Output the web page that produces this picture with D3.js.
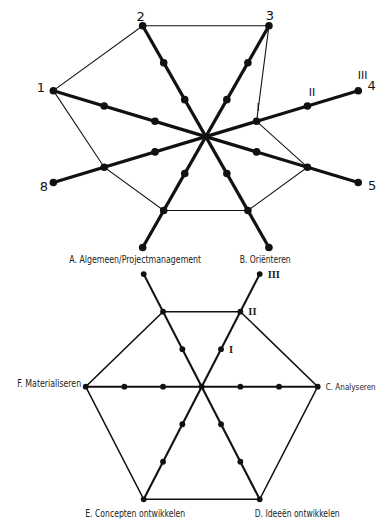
<!DOCTYPE html>
<html>
<head>
<meta charset="utf-8">
<script src="https://cdn.jsdelivr.net/npm/d3@7"></script>
<style>
  html, body { margin: 0; padding: 0; background: #fff; }
  svg { display: block; }
</style>
</head>
<body>
<svg id="chart" width="383" height="520"></svg>
<script>
// ---------- DATA ----------
const topSpokes = ["1", "2", "3", "4", "5", "6", "7", "8"];
const topValues = [3, 3, 3, 1, 2, 2, 2, 2];
const topLevelLabels = ["I", "II", "III"];

const bottomAxes = [
  "A. Algemeen/Projectmanagement",
  "B. Oriënteren",
  "C. Analyseren",
  "D. Ideeën ontwikkelen",
  "E. Concepten ontwikkelen",
  "F. Materialiseren"
];
const bottomValues = [2, 2, 3, 3, 3, 3];
const bottomLevelLabels = ["I", "II", "III"];
const levelMax = 3;

// ---------- LAYOUT ----------
const svg = d3.select("#chart");
const ink = "#111";

function makeRadar(cfg) {
  const n = cfg.count;
  const x = d3.scaleLinear().domain([-1, 1]).range([cfg.cx - cfg.rx, cfg.cx + cfg.rx]);
  const y = d3.scaleLinear().domain([-1, 1]).range([cfg.cy + cfg.ry, cfg.cy - cfg.ry]);
  const r = d3.scaleLinear().domain([0, levelMax]).range([0, 1]);
  const angle = i => (cfg.startDeg - i * 360 / n) * Math.PI / 180;
  const pt = (i, v) => [x(r(v) * Math.cos(angle(i))), y(r(v) * Math.sin(angle(i)))];
  return { x, y, r, angle, pt };
}

// ================= TOP CHART =================
const T = { cx: 205.8, cy: 136.6, rx: 165, ry: 120, count: topSpokes.length, startDeg: 157.5 };
const radarTop = makeRadar(T);
const gTop = svg.append("g");

gTop.append("path")
  .datum(topValues.map((v, i) => radarTop.pt(i, v)))
  .attr("d", d3.line().curve(d3.curveLinearClosed))
  .attr("fill", "none").attr("stroke", ink).attr("stroke-width", 1.1);

gTop.selectAll("line.spoke").data(topSpokes).join("line")
  .attr("class", "spoke")
  .attr("x1", (d, i) => radarTop.pt(i, 0)[0]).attr("y1", (d, i) => radarTop.pt(i, 0)[1])
  .attr("x2", (d, i) => radarTop.pt(i, levelMax)[0]).attr("y2", (d, i) => radarTop.pt(i, levelMax)[1])
  .attr("stroke", ink).attr("stroke-width", 3.2);

const topDots = [];
topSpokes.forEach((s, i) => d3.range(1, levelMax + 1).forEach(l => topDots.push(radarTop.pt(i, l))));
gTop.selectAll("circle").data(topDots).join("circle")
  .attr("cx", d => d[0]).attr("cy", d => d[1]).attr("r", 3.8).attr("fill", ink);

// spoke number labels (6 and 7 are hidden behind the lower figure)
const topLabelOffset = {
  "1": [-12.5, 1.5], "2": [-2, -4.5], "3": [1, -5.5], "4": [13.5, -0.5],
  "5": [14, 7.5], "8": [-9.5, 8.5]
};
gTop.selectAll("text.num").data(topSpokes.filter(s => topLabelOffset[s])).join("text")
  .attr("class", "num")
  .attr("x", s => radarTop.pt(topSpokes.indexOf(s), levelMax)[0] + topLabelOffset[s][0])
  .attr("y", s => radarTop.pt(topSpokes.indexOf(s), levelMax)[1] + topLabelOffset[s][1])
  .attr("text-anchor", "middle")
  .attr("font-family", "DejaVu Sans, sans-serif").attr("font-size", 13)
  .attr("fill", ink)
  .text(s => s);

const topLevelOffset = [[1.5, -10.5], [4.5, -9.5], [4.5, -11.5]];
gTop.selectAll("text.lvl").data(topLevelLabels).join("text")
  .attr("class", "lvl")
  .attr("x", (d, k) => radarTop.pt(3, k + 1)[0] + topLevelOffset[k][0])
  .attr("y", (d, k) => radarTop.pt(3, k + 1)[1] + topLevelOffset[k][1])
  .attr("text-anchor", "middle")
  .attr("font-family", "DejaVu Sans, sans-serif").attr("font-size", 11)
  .attr("fill", ink)
  .text(d => d);

// ================= BOTTOM CHART =================
const B = { cx: 201.7, cy: 386.7, rx: 116, ry: 130, count: bottomAxes.length, startDeg: 120 };
const radarBot = makeRadar(B);
const gBot = svg.append("g");

gBot.append("path")
  .datum(bottomValues.map((v, i) => radarBot.pt(i, v)))
  .attr("d", d3.line().curve(d3.curveLinearClosed))
  .attr("fill", "none").attr("stroke", ink).attr("stroke-width", 1.5);

gBot.selectAll("line.spoke").data(bottomAxes).join("line")
  .attr("class", "spoke")
  .attr("x1", (d, i) => radarBot.pt(i, 0)[0]).attr("y1", (d, i) => radarBot.pt(i, 0)[1])
  .attr("x2", (d, i) => radarBot.pt(i, levelMax)[0]).attr("y2", (d, i) => radarBot.pt(i, levelMax)[1])
  .attr("stroke", ink).attr("stroke-width", 2.1);

const botDots = [];
bottomAxes.forEach((s, i) => d3.range(1, levelMax + 1).forEach(l => botDots.push(radarBot.pt(i, l))));
botDots.push(radarBot.pt(0, 0));
gBot.selectAll("circle").data(botDots).join("circle")
  .attr("cx", d => d[0]).attr("cy", d => d[1]).attr("r", 2.9).attr("fill", ink);

const botLabelPlace = [
  { dx: -8.5, dy: -11.5, anchor: "middle", w: 132, fs: 10 },
  { dx: 5.5, dy: -11.5, anchor: "middle", w: 51, fs: 10 },
  { dx: 8, dy: 3.3, anchor: "start", w: 50, fs: 9 },
  { dx: 37.5, dy: 17.5, anchor: "middle", w: 85, fs: 10 },
  { dx: -8.5, dy: 17.5, anchor: "middle", w: 100, fs: 10 },
  { dx: -4.5, dy: 0.5, anchor: "end", w: 64, fs: 10 }
];
gBot.selectAll("text.axis").data(bottomAxes).join("text")
  .attr("class", "axis")
  .attr("x", (d, i) => radarBot.pt(i, levelMax)[0] + botLabelPlace[i].dx)
  .attr("y", (d, i) => radarBot.pt(i, levelMax)[1] + botLabelPlace[i].dy)
  .attr("text-anchor", (d, i) => botLabelPlace[i].anchor)
  .attr("font-family", "Liberation Sans Narrow, DejaVu Sans Condensed, Roboto, sans-serif")
  .attr("font-size", (d, i) => botLabelPlace[i].fs)
  .attr("textLength", (d, i) => botLabelPlace[i].w)
  .attr("lengthAdjust", "spacingAndGlyphs")
  .attr("fill", "#222")
  .text(d => d);

gBot.selectAll("text.lvl").data(bottomLevelLabels).join("text")
  .attr("class", "lvl")
  .attr("x", (d, k) => radarBot.pt(1, k + 1)[0] + 8)
  .attr("y", (d, k) => radarBot.pt(1, k + 1)[1] + 3.5)
  .attr("text-anchor", "start")
  .attr("font-family", "Liberation Serif, DejaVu Serif, serif")
  .attr("font-size", 10.5).attr("font-weight", "bold")
  .attr("fill", "#222")
  .text(d => d);
</script>
</body>
</html>
